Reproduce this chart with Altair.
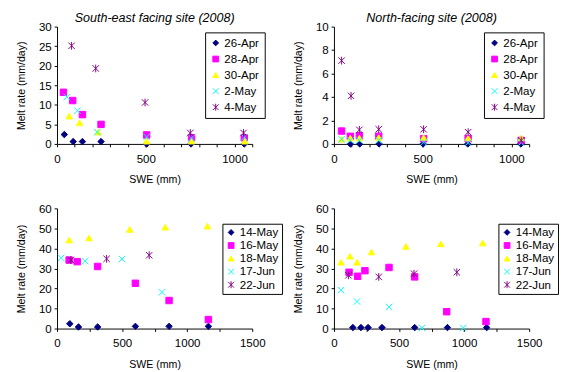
import altair as alt
import pandas as pd

FONT = "Liberation Sans"

SERIES_TOP = ["26-Apr", "28-Apr", "30-Apr", "2-May", "4-May"]
SERIES_BOT = ["14-May", "16-May", "18-May", "17-Jun", "22-Jun"]

# ---- South-east facing site (2008), top-left ----
se_26apr_x = [41, 91, 143, 248, 505, 755, 1055]
se_26apr_y = [2.4, 0.6, 0.6, 0.6, 0.0, 0.0, 0.0]
se_28apr_x = [36, 88, 143, 248, 505, 758, 1055]
se_28apr_y = [13.2, 11.1, 7.5, 5.0, 2.3, 1.6, 1.6]
se_30apr_x = [69, 127, 231, 505, 758, 1058]
se_30apr_y = [7.1, 5.4, 3.0, 0.7, 0.7, 0.7]
se_2may_x = [55, 115, 227, 505, 758, 1055]
se_2may_y = [12.0, 8.5, 3.0, 1.8, 1.5, 1.7]
se_4may_x = [82, 218, 496, 751, 1051]
se_4may_y = [25.1, 19.3, 10.6, 2.8, 2.8]

# ---- North-facing site (2008), top-right ----
n_26apr_x = [92, 145, 254, 502, 754, 1053]
n_26apr_y = [0.0, 0.0, 0.0, 0.0, 0.0, 0.0]
n_28apr_x = [43, 92, 143, 252, 505, 756, 1055]
n_28apr_y = [1.1, 0.65, 0.7, 0.65, 0.45, 0.45, 0.3]
n_30apr_x = [43, 92, 143, 252, 505, 756, 1055]
n_30apr_y = [0.4, 0.5, 0.5, 0.55, 0.55, 0.5, 0.5]
n_2may_x = [43, 92, 143, 252, 505, 756, 1055]
n_2may_y = [0.4, 0.3, 0.3, 0.3, 0.15, 0.1, 0.1]
n_4may_x = [43, 96, 143, 252, 505, 756, 1055]
n_4may_y = [7.1, 4.1, 1.2, 1.25, 1.25, 1.0, 0.3]

# ---- South-east facing site, later dates (bottom-left) ----
se_14may_x = [98, 165, 312, 602, 861, 1163]
se_14may_y = [2.4, 0.8, 0.8, 1.1, 1.1, 1.1]
se_16may_x = [93, 155, 312, 602, 861, 1163]
se_16may_y = [34.2, 33.4, 31.0, 22.6, 14.0, 4.5]
se_18may_x = [93, 246, 558, 831, 1156]
se_18may_y = [44.2, 45.2, 49.5, 50.6, 51.1]
se_17jun_x = [32, 216, 499, 806]
se_17jun_y = [35.3, 33.7, 34.7, 18.1]
se_22jun_x = [106, 381, 708]
se_22jun_y = [34.2, 34.8, 36.6]

# ---- North-facing site, later dates (bottom-right) ----
n_14may_x = [145, 207, 262, 369, 620, 872, 1173]
n_14may_y = [0.5, 0.5, 0.5, 0.5, 0.5, 0.5, 0.5]
n_16may_x = [116, 182, 238, 423, 620, 866, 1168]
n_16may_y = [28.1, 26.1, 28.9, 30.5, 25.8, 8.4, 3.5]
n_18may_x = [54, 123, 177, 288, 553, 821, 1143]
n_18may_y = [33.1, 36.1, 33.1, 38.2, 41.0, 42.3, 42.7]
n_17jun_x = [54, 177, 423, 676, 993]
n_17jun_y = [19.2, 13.5, 10.8, 0.3, 0.3]
n_22jun_x = [111, 344, 615, 944]
n_22jun_y = [26.6, 25.8, 27.4, 28.1]

# axis tick values
x_ticks_top = [0, 100, 200, 300, 400, 500, 600, 700, 800, 900, 1000, 1100]
x_ticks_bot = [0, 250, 500, 750, 1000, 1250, 1500]
y_ticks_se_top = [0, 5, 10, 15, 20, 25, 30]
y_ticks_n_top = [0, 2, 4, 6, 8, 10]
y_ticks_bot = [0, 10, 20, 30, 40, 50, 60]

X_PATH = "M-1,-1L1,1M-1,1L1,-1"
STAR_PATH = "M-1,-1L1,1M-1,1L1,-1M0,-1.2L0,1.2"
SHAPES = ["diamond", "square", "triangle-up", X_PATH, STAR_PATH]
FILLS = ["#000080", "#FF00FF", "#FFFF00", "transparent", "transparent"]
STROKES = ["#000080", "#FF00FF", "#FFFF00", "#00FFFF", "#800080"]


def frame(names, xs, ys):
    rows = []
    for n, xv, yv in zip(names, xs, ys):
        for a, b in zip(xv, yv):
            rows.append({"series": n, "swe": a, "melt": b})
    return pd.DataFrame(rows)


df_tl = frame(SERIES_TOP,
              [se_26apr_x, se_28apr_x, se_30apr_x, se_2may_x, se_4may_x],
              [se_26apr_y, se_28apr_y, se_30apr_y, se_2may_y, se_4may_y])
df_tr = frame(SERIES_TOP,
              [n_26apr_x, n_28apr_x, n_30apr_x, n_2may_x, n_4may_x],
              [n_26apr_y, n_28apr_y, n_30apr_y, n_2may_y, n_4may_y])
df_bl = frame(SERIES_BOT,
              [se_14may_x, se_16may_x, se_18may_x, se_17jun_x, se_22jun_x],
              [se_14may_y, se_16may_y, se_18may_y, se_17jun_y, se_22jun_y])
df_br = frame(SERIES_BOT,
              [n_14may_x, n_16may_x, n_18may_x, n_17jun_x, n_22jun_x],
              [n_14may_y, n_16may_y, n_18may_y, n_17jun_y, n_22jun_y])


def panel(df, order, xmax, xticks, ymax, yticks, height, lx, ly, rowpad, legpad,
          xtitlepad, title=None):
    leg = alt.Legend(
        title=None, orient="none", legendX=lx, legendY=ly,
        strokeColor="black", fillColor="white", padding=legpad,
        rowPadding=rowpad, labelFont=FONT, labelFontSize=12,
        labelColor="black", symbolSize=36, labelOffset=3,
        symbolStrokeWidth=1,
    )
    props = {"width": 203, "height": height}
    if title is not None:
        props["title"] = alt.Title(title)
    return alt.Chart(df).mark_point(opacity=1, size=45, strokeWidth=1).encode(
        x=alt.X("swe:Q",
                scale=alt.Scale(domain=[0, xmax], nice=False, zero=True),
                axis=alt.Axis(values=xticks, title="SWE (mm)",
                              labelExpr="datum.value % 500 === 0 ? datum.label : ''",
                              labelFlush=False, labelOverlap=False,
                              tickSize=3, labelPadding=7, titlePadding=xtitlepad,
                              format="d")),
        y=alt.Y("melt:Q",
                scale=alt.Scale(domain=[0, ymax], nice=False),
                axis=alt.Axis(values=yticks, title="Melt rate (mm/day)",
                              tickSize=3, labelPadding=3, titlePadding=12,
                              format="d")),
        shape=alt.Shape("series:N", scale=alt.Scale(domain=order, range=SHAPES),
                        legend=leg),
        fill=alt.Fill("series:N", scale=alt.Scale(domain=order, range=FILLS),
                      legend=leg),
        stroke=alt.Stroke("series:N", scale=alt.Scale(domain=order, range=STROKES),
                          legend=leg),
    ).properties(**props)


tl = panel(df_tl, SERIES_TOP, 1100, x_ticks_top, 30, y_ticks_se_top, 122,
           154, 6, 4.7, 5, 10, "South-east facing site (2008)")
tr = panel(df_tr, SERIES_TOP, 1100, x_ticks_top, 10, y_ticks_n_top, 122,
           156, 6, 4.7, 5, 10, "North-facing site (2008)")
bl = panel(df_bl, SERIES_BOT, 1500, x_ticks_bot, 60, y_ticks_bot, 125,
           172, 16, 1.6, 3, 10)
br = panel(df_br, SERIES_BOT, 1500, x_ticks_bot, 60, y_ticks_bot, 125,
           171, 16, 1.6, 3, 10)

chart = alt.concat(
    tl, tr, bl, br, columns=2, spacing={"row": 67, "column": 85}, bounds="flush"
).resolve_scale(
    shape="independent", fill="independent", stroke="independent"
).resolve_legend(
    shape="independent", fill="independent", stroke="independent"
).properties(
    padding={"left": 8, "top": -4, "right": 0, "bottom": 0},
    background="white",
).configure_view(
    stroke="transparent"
).configure_axis(
    grid=False, domainColor="black", tickColor="black", labelColor="black",
    titleColor="black", labelFont=FONT, titleFont=FONT, labelFontSize=12,
    titleFontSize=11, titleFontWeight="normal", domainWidth=1, tickWidth=1,
).configure_title(
    font=FONT, fontSize=13, fontStyle="italic", fontWeight="normal",
    anchor="middle", offset=-4, color="black",
)

chart.save("out.html", embed_options={"renderer": "svg", "actions": False})
